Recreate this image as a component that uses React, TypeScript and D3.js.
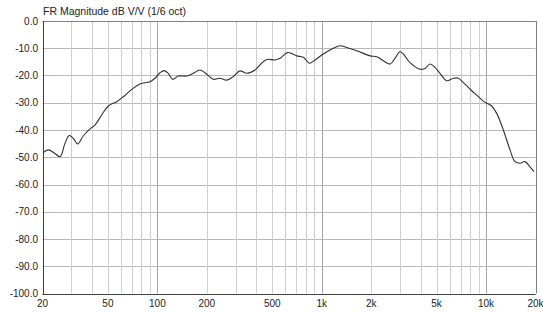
import React from "react";
import * as d3 from "d3";

const title = "FR Magnitude dB V/V (1/6 oct)";
const freqs = [20.2, 21.7, 23.8, 25.6, 27.4, 29.1, 30.8, 32.7, 35.4, 38.9, 41.7, 45.8, 50.3, 56.6, 62, 69.8, 78.4, 90.2, 96.7, 103.8, 109.8, 116.6, 124, 134, 151, 165.5, 181.7, 195, 219, 240.6, 264, 290, 318, 350, 393, 421, 463, 520, 558, 618, 666, 705, 773, 841, 910, 1023, 1177, 1293, 1420, 1633, 1968, 2162, 2371, 2604, 2793, 2995, 3138, 3446, 3966, 4253, 4561, 4892, 5247, 5764, 6323, 6782, 7274, 8182, 8774, 9626, 10826, 11615, 12742, 13996, 15008, 16100, 17270, 18520, 19580];
const magnitudes = [-48.3, -47.3, -48.6, -49.8, -44.9, -42.0, -43.1, -45.1, -42.2, -39.6, -38.2, -34.5, -31.2, -29.6, -27.8, -25.1, -23.1, -22.3, -21.0, -19.0, -18.2, -19.2, -21.4, -20.2, -20.2, -19.2, -18.0, -19.0, -21.4, -21.0, -21.7, -20.4, -18.3, -19.2, -18.0, -16.1, -14.1, -14.3, -13.7, -11.6, -12.1, -12.8, -13.3, -15.5, -14.3, -12.1, -10.0, -9.1, -9.7, -10.9, -12.8, -13.1, -14.6, -15.8, -13.7, -11.3, -12.1, -15.3, -17.7, -17.4, -15.8, -17.0, -19.2, -21.9, -21.0, -21.0, -22.6, -25.6, -27.2, -29.4, -31.2, -33.9, -40.0, -47.3, -51.6, -52.2, -51.6, -53.5, -55.3];
const yTicks = [0, -10, -20, -30, -40, -50, -60, -70, -80, -90, -100];
const xGrid = [30, 40, 50, 60, 70, 80, 90, 100, 200, 300, 400, 500, 600, 700, 800, 900, 1000, 2000, 3000, 4000, 5000, 6000, 7000, 8000, 9000, 10000];
const xMajor = [100, 1000, 10000];
const xLabels = [20, 50, 100, 200, 500, 1000, 2000, 5000, 10000, 20000];
const xLabelText = ["20", "50", "100", "200", "500", "1k", "2k", "5k", "10k", "20k"];

export default function App() {
  const W = 543, H = 314;
  const left = 42.5, right = 535.5, top = 21, bottom = 293.5;
  const x = d3.scaleLog().domain([20, 20000]).range([left, right]);
  const y = d3.scaleLinear().domain([-100, 0]).range([bottom, top]);
  const data = freqs.map((f, i) => [f, magnitudes[i]] as [number, number]);
  const line = d3.line<[number, number]>().x(d => x(d[0])).y(d => y(d[1])).curve(d3.curveCatmullRom.alpha(0.5));
  const font = "Liberation Sans, Arial, sans-serif";
  return (
    <svg width={W} height={H} style={{ position: "absolute", left: 0, top: 0, background: "#fff" }} fontFamily={font}>
      <rect x={0} y={0} width={W} height={H} fill="#fff" />
      {yTicks.map(t => (
        <line key={"h" + t} x1={left} x2={right} y1={Math.round(y(t)) + 0.5} y2={Math.round(y(t)) + 0.5} stroke="#b8b8b8" strokeWidth={1} />
      ))}
      {xGrid.map(f => (
        <line key={"v" + f} x1={Math.round(x(f)) + 0.5} x2={Math.round(x(f)) + 0.5} y1={top} y2={bottom} stroke={xMajor.includes(f) ? "#a8a8a8" : "#cfcfcf"} strokeWidth={1} />
      ))}
      <line x1={left} x2={right} y1={Math.round(top) + 0.5} y2={Math.round(top) + 0.5} stroke="#808080" />
      <line x1={Math.round(right) + 0.5} x2={Math.round(right) + 0.5} y1={top} y2={bottom} stroke="#808080" />
      <line x1={Math.round(left) + 0.5} x2={Math.round(left) + 0.5} y1={top} y2={bottom + 1} stroke="#404040" />
      <line x1={left} x2={right} y1={Math.round(bottom) + 0.5} y2={Math.round(bottom) + 0.5} stroke="#404040" />
      <path d={line(data) || ""} fill="none" stroke="#303030" strokeWidth={1.1} />
      {yTicks.map(t => (
        <text key={"yl" + t} x={38} y={y(t) + 3.5} textAnchor="end" fontSize={10} fill="#222">{t.toFixed(1)}</text>
      ))}
      {xLabels.map((f, i) => (
        <text key={"xl" + f} x={x(f)} y={307} textAnchor="middle" fontSize={10} fill="#222">{xLabelText[i]}</text>
      ))}
      <text x={43} y={15} fontSize={10.5} fill="#222">{title}</text>
    </svg>
  );
}
